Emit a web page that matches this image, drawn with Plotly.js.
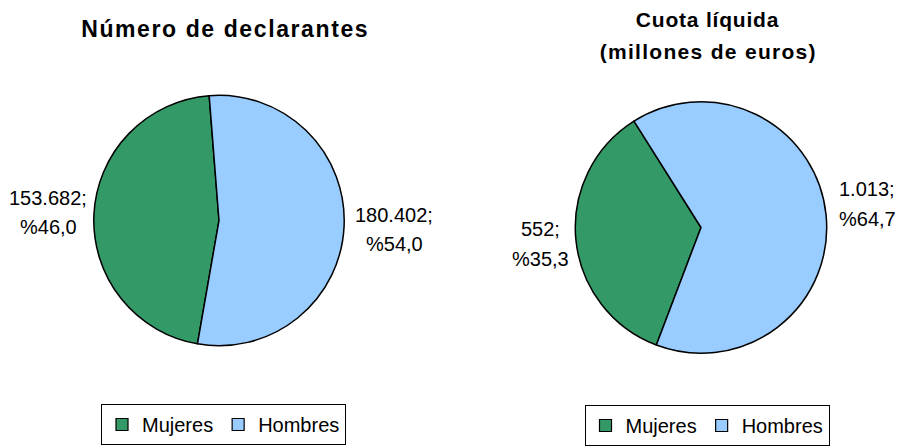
<!DOCTYPE html>
<html>
<head>
<meta charset="utf-8">
<script src="https://cdn.plot.ly/plotly-3.0.1.min.js"></script>
<style>
  html, body { margin: 0; padding: 0; background: #fff; }
  #chart { width: 901px; height: 446px; }
</style>
</head>
<body>
<div id="chart"></div>
<script>
// ---- data ----
const categories = ['Mujeres', 'Hombres'];
const declarantes = [153682, 180402];
const cuotaLiquida = [552, 1013];
const titleLeft = ['Número de declarantes'];
const titleRight = ['Cuota líquida', '(millones de euros)'];
const sliceColors = ['#339966', '#99CCFF'];

// ---- helpers ----
const W = 901, H = 446;
const px = x => x / W;
const py = y => 1 - y / H;
function fmtInt(n) { return String(n).replace(/\B(?=(\d{3})+(?!\d))/g, '.'); }
function fmtPct(v, total) { return '%' + (v / total * 100).toFixed(1).replace('.', ','); }

const FONT = 'Liberation Sans, Arial, sans-serif';

const traces = [
  {
    type: 'pie', labels: categories, values: declarantes, sort: false,
    direction: 'clockwise', rotation: -170.1,
    marker: { colors: sliceColors, line: { color: '#000', width: 1.5 } },
    textinfo: 'none', hoverinfo: 'none', showlegend: false,
    domain: { x: [px(93.5), px(344.5)], y: [py(346.5), py(95.5)] }
  },
  {
    type: 'pie', labels: categories, values: cuotaLiquida, sort: false,
    direction: 'clockwise', rotation: -159.2,
    marker: { colors: sliceColors, line: { color: '#000', width: 1.5 } },
    textinfo: 'none', hoverinfo: 'none', showlegend: false,
    domain: { x: [px(575), px(827)], y: [py(354), py(102)] }
  }
];
// one legend per pie (legend entries only, no data drawn)
['legend', 'legend2'].forEach(lg => {
  categories.forEach((c, i) => {
    traces.push({
      type: 'scatter', mode: 'markers', x: [null], y: [null], name: c,
      legend: lg, showlegend: true, hoverinfo: 'none',
      marker: { symbol: 'square', size: 12, color: sliceColors[i], line: { color: '#000', width: 1.2 } }
    });
  });
});

// slice labels (two lines each)
const labelSpots = [
  [declarantes, 0, 48, 198],
  [declarantes, 1, 394, 215],
  [cuotaLiquida, 0, 540, 229.5],
  [cuotaLiquida, 1, 867, 189.5]
];
const annotations = [];
labelSpots.forEach(([vals, i, x, y]) => {
  const total = vals.reduce((a, b) => a + b, 0);
  const lines = [fmtInt(vals[i]) + ';', fmtPct(vals[i], total)];
  lines.forEach((t, k) => {
    annotations.push({
      xref: 'paper', yref: 'paper', x: px(x), y: py(y + k * 30),
      xanchor: 'center', yanchor: 'middle', showarrow: false,
      text: t, font: { family: FONT, size: 20, color: '#000' }
    });
  });
});
// titles
annotations.push({
  xref: 'paper', yref: 'paper', x: px(225), y: py(29), xanchor: 'center', yanchor: 'middle',
  showarrow: false, text: titleLeft[0],
  font: { family: FONT, size: 23, color: '#000', weight: 'bold' }
});
annotations.push({
  xref: 'paper', yref: 'paper', x: px(707), y: py(20), xanchor: 'center', yanchor: 'middle',
  showarrow: false, text: titleRight[0],
  font: { family: FONT, size: 21, color: '#000', weight: 'bold' }
});
annotations.push({
  xref: 'paper', yref: 'paper', x: px(708), y: py(52), xanchor: 'center', yanchor: 'middle',
  showarrow: false, text: titleRight[1],
  font: { family: FONT, size: 21, color: '#000', weight: 'bold' }
});

const legendCommon = {
  orientation: 'h', xanchor: 'center', yanchor: 'top',
  bordercolor: '#000', borderwidth: 1, bgcolor: '#fff',
  font: { family: FONT, size: 20, color: '#000' }
};

const layout = {
  width: W, height: H,
  margin: { l: 0, r: 0, t: 0, b: 0 },
  paper_bgcolor: '#fff', plot_bgcolor: 'rgba(0,0,0,0)',
  xaxis: { visible: false, fixedrange: true },
  yaxis: { visible: false, fixedrange: true },
  showlegend: true,
  legend: Object.assign({}, legendCommon, { x: px(223.5), y: py(404) }),
  legend2: Object.assign({}, legendCommon, { x: px(707), y: py(406) }),
  annotations: annotations
};

Plotly.newPlot('chart', traces, layout, { staticPlot: true, displayModeBar: false }).then(gd => {
  const spacing = [1.6, 0.8, 1.3];
  const texts = gd.querySelectorAll('.annotation-text');
  const n = texts.length;
  for (let k = 0; k < 3; k++) {
    const el = texts[n - 3 + k];
    if (el) el.style.letterSpacing = spacing[k] + 'px';
  }
});
</script>
</body>
</html>
